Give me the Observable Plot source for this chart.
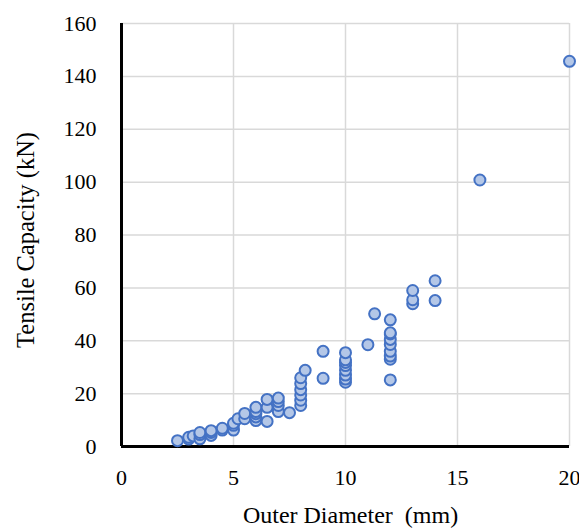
<!DOCTYPE html>
<html>
<head>
<meta charset="utf-8">
<script src="https://cdn.jsdelivr.net/npm/d3@7"></script>
<script src="https://cdn.jsdelivr.net/npm/@observablehq/plot@0.6"></script>
<style>
  html, body { margin: 0; padding: 0; background: #fff; }
</style>
</head>
<body>
<div id="chart"></div>
<script>
const diameter = [
  2.5, 3, 3, 3.2, 3.5, 3.5, 3.5, 4, 4, 4, 4.5, 4.5, 5, 5, 5, 5.2, 5.5, 5.5,
  6, 6, 6, 6, 6, 6.5, 6.5, 6.5, 7, 7, 7, 7, 7.5,
  8, 8, 8, 8, 8, 8, 8.2, 9, 9,
  10, 10, 10, 10, 10, 10, 10, 10, 11, 11.3,
  12, 12, 12, 12, 12, 12, 12, 12, 12,
  13, 13, 13, 14, 14, 16, 20
];
const capacity = [
  2.2, 2.8, 3.5, 4, 2.9, 4.5, 5.3, 4.2, 5.3, 6, 6.2, 6.9, 6.2, 8, 8.8, 10.5, 10.5, 12.5,
  9.8, 11.2, 12.4, 13.2, 14.8, 9.5, 14.8, 17.8, 13.2, 15.5, 17, 18.3, 12.8,
  15.5, 17.5, 19.5, 21.5, 23.8, 26, 28.8, 25.8, 36,
  24.3, 25.5, 27, 28.8, 30.6, 31.8, 32.8, 35.5, 38.5, 50.2,
  25.2, 33, 34.2, 36, 38.6, 40.5, 42.6, 43, 47.9,
  54, 55.5, 59, 55.2, 62.7, 100.8, 145.7
];
const xTicks = [0, 5, 10, 15, 20];
const yTicks = [0, 20, 40, 60, 80, 100, 120, 140, 160];
const xTitle = "Outer Diameter\u00a0 (mm)";
const yTitle = "Tensile Capacity (kN)";

const points = diameter.map((d, i) => ({d, c: capacity[i]}));

const chart = Plot.plot({
  width: 579,
  height: 530,
  marginLeft: 121,
  marginRight: 10,
  marginTop: 23,
  marginBottom: 84,
  style: {fontFamily: "'Liberation Serif', 'Times New Roman', serif", fontSize: "22px", color: "#000", background: "#fff"},
  x: {domain: [0, 20], ticks: xTicks},
  y: {domain: [0, 160], ticks: yTicks},
  marks: [
    Plot.gridX(xTicks.slice(1), {stroke: "#d9d9d9", strokeOpacity: 1, strokeWidth: 1.5}),
    Plot.gridY(yTicks.slice(1), {stroke: "#d9d9d9", strokeOpacity: 1, strokeWidth: 1.5}),
    Plot.axisX(xTicks, {tickSize: 0, tickPadding: 23, label: null, fontSize: 22}),
    Plot.axisY(yTicks, {tickSize: 0, tickPadding: 25, label: null, fontSize: 22}),
    Plot.ruleX([0], {stroke: "#000", strokeWidth: 3}),
    Plot.ruleY([0], {stroke: "#000", strokeWidth: 3}),
    Plot.dot(points, {x: "d", y: "c", r: 5.5, fill: "#b4c7e7", fillOpacity: 1, stroke: "#4472c4", strokeWidth: 2}),
    Plot.text([xTitle], {frameAnchor: "bottom", dx: 5, dy: 69, lineAnchor: "middle", textAnchor: "middle", fontSize: 24, fill: "#000"}),
    Plot.text([yTitle], {frameAnchor: "left", dx: -95, dy: 5, rotate: -90, lineAnchor: "middle", textAnchor: "middle", fontSize: 24.5, fill: "#000"})
  ]
});
document.getElementById("chart").appendChild(chart);
</script>
</body>
</html>
